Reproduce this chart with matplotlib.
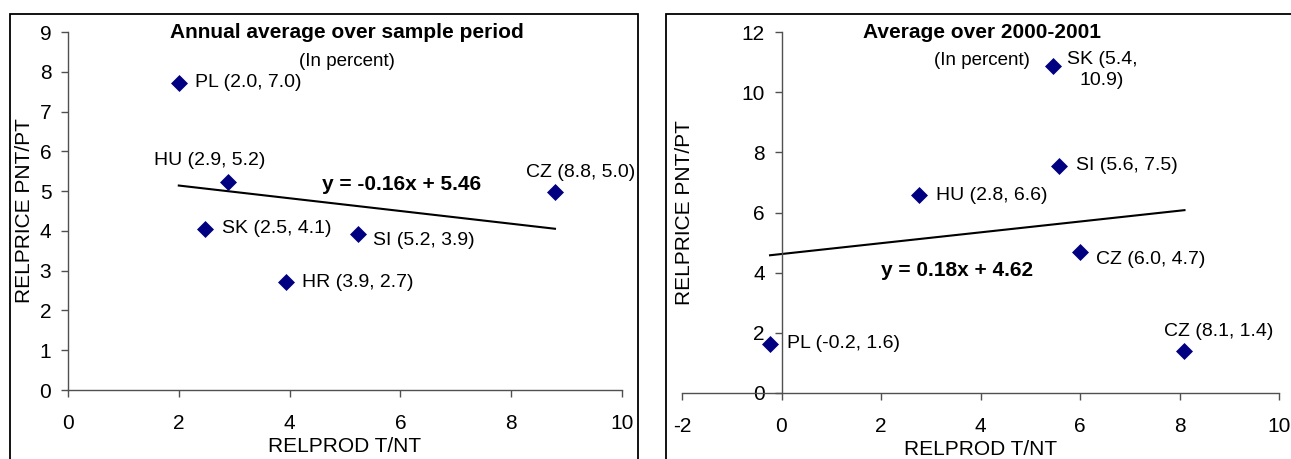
import numpy as np
import matplotlib.pyplot as plt
from matplotlib.patches import Rectangle

plt.rcParams['font.family'] = ['Liberation Sans', 'DejaVu Sans']
plt.rcParams['axes.unicode_minus'] = False

# left panel: annual average over sample period
left_codes = ['PL', 'HU', 'SK', 'HR', 'SI', 'CZ']
left_x = [2.0, 2.88, 2.48, 3.93, 5.23, 8.79]
left_y = [7.71, 5.24, 4.06, 2.71, 3.92, 4.99]
left_labels = ['PL (2.0, 7.0)', 'HU (2.9, 5.2)', 'SK (2.5, 4.1)',
               'HR (3.9, 2.7)', 'SI (5.2, 3.9)', 'CZ (8.8, 5.0)']
left_slope, left_icept = -0.16, 5.46

# right panel: average over 2000-2001
right_codes = ['PL', 'HU', 'SK', 'SI', 'CZ', 'CZ']
right_x = [-0.23, 2.76, 5.45, 5.57, 6.01, 8.10]
right_y = [1.62, 6.57, 10.87, 7.55, 4.70, 1.41]
right_labels = ['PL (-0.2, 1.6)', 'HU (2.8, 6.6)', 'SK (5.4,\n10.9)',
                'SI (5.6, 7.5)', 'CZ (6.0, 4.7)', 'CZ (8.1, 1.4)']
right_slope, right_icept = 0.18, 4.62

W, H = 1291, 459
fig = plt.figure(figsize=(W / 100, H / 100), dpi=100)

# panel frames
for x0, x1 in [(10, 638), (666, 1300)]:
    fig.patches.append(Rectangle((x0 / W, -0.1), (x1 - x0) / W, (H - 14) / H + 0.1,
                                 transform=fig.transFigure, fill=False,
                                 edgecolor='black', lw=1.3))

ax1 = fig.add_axes([68 / W, (H - 390) / H, 554 / W, 358 / H])
ax2 = fig.add_axes([682 / W, (H - 393) / H, 597 / W, 361 / H])

fs_tick = 15
fs_lab = 14
axcol = '#505050'
for ax in (ax1, ax2):
    for s in ('top', 'right'):
        ax.spines[s].set_visible(False)
    for s in ('left', 'bottom'):
        ax.spines[s].set_color(axcol)
        ax.spines[s].set_linewidth(1.0)
    ax.tick_params(direction='out', length=5, width=1, color=axcol, labelsize=fs_tick)
    ax.tick_params(axis='y', pad=7)
    ax.tick_params(axis='x', pad=12)
    ax.set_xlabel('RELPROD T/NT', fontsize=15)
    ax.set_ylabel('RELPRICE PNT/PT', fontsize=15)

# left
ax1.set_xlim(0, 10)
ax1.set_ylim(0, 9)
ax1.set_xticks(range(0, 11, 2))
ax1.set_yticks(range(0, 10))
ax1.scatter(left_x, left_y, marker='D', s=75, color='#000080', linewidths=0, zorder=3)
xx = np.array([min(left_x), max(left_x)])
ax1.plot(xx, left_slope * xx + left_icept, color='black', lw=1.5)
left_pos = [(2.29, 7.74, 'left'), (2.55, 5.76, 'center'), (2.78, 4.07, 'left'),
            (4.23, 2.71, 'left'), (5.51, 3.75, 'left'), (9.26, 5.48, 'center')]
for lab, (tx, ty, ha) in zip(left_labels, left_pos):
    ax1.text(tx, ty, lab, fontsize=fs_lab, ha=ha, va='center')
ax1.text(6.02, 5.17, f'y = {left_slope:.2f}x + {left_icept:.2f}', fontsize=15,
         fontweight='bold', ha='center', va='center')
ax1.text(5.03, 9.0, 'Annual average over sample period', fontsize=15,
         fontweight='bold', ha='center', va='center')
ax1.text(5.03, 8.27, '(In percent)', fontsize=13.5, ha='center', va='center')
ax1.yaxis.set_label_coords(-0.061, 0.5)
ax1.xaxis.set_label_coords(0.5, -0.13)

# right
ax2.set_xlim(-2, 10)
ax2.set_ylim(0, 12)
ax2.set_xticks(range(-2, 11, 2))
ax2.set_yticks(range(0, 13, 2))
ax2.spines['left'].set_position(('data', 0))
ax2.scatter(right_x, right_y, marker='D', s=75, color='#000080', linewidths=0, zorder=3)
xx = np.array([min(right_x), max(right_x)])
ax2.plot(xx, right_slope * xx + right_icept, color='black', lw=1.5)
right_pos = [(0.12, 1.65, 'left'), (3.10, 6.58, 'left'), (6.44, 10.74, 'center'),
             (5.92, 7.56, 'left'), (6.32, 4.44, 'left'), (8.78, 2.06, 'center')]
for lab, (tx, ty, ha) in zip(right_labels, right_pos):
    ax2.text(tx, ty, lab, fontsize=fs_lab, ha=ha, va='center',
             multialignment='center', linespacing=1.35)
ax2.text(3.52, 4.06, f'y = {right_slope:.2f}x + {right_icept:.2f}', fontsize=15,
         fontweight='bold', ha='center', va='center')
ax2.text(4.03, 12.0, 'Average over 2000-2001', fontsize=15,
         fontweight='bold', ha='center', va='center')
ax2.text(4.03, 11.05, '(In percent)', fontsize=13.5, ha='center', va='center')
ax2.yaxis.set_label_coords(0.02, 0.5)
ax2.xaxis.set_label_coords(0.5, -0.13)

fig.savefig('out.png', dpi=100)
